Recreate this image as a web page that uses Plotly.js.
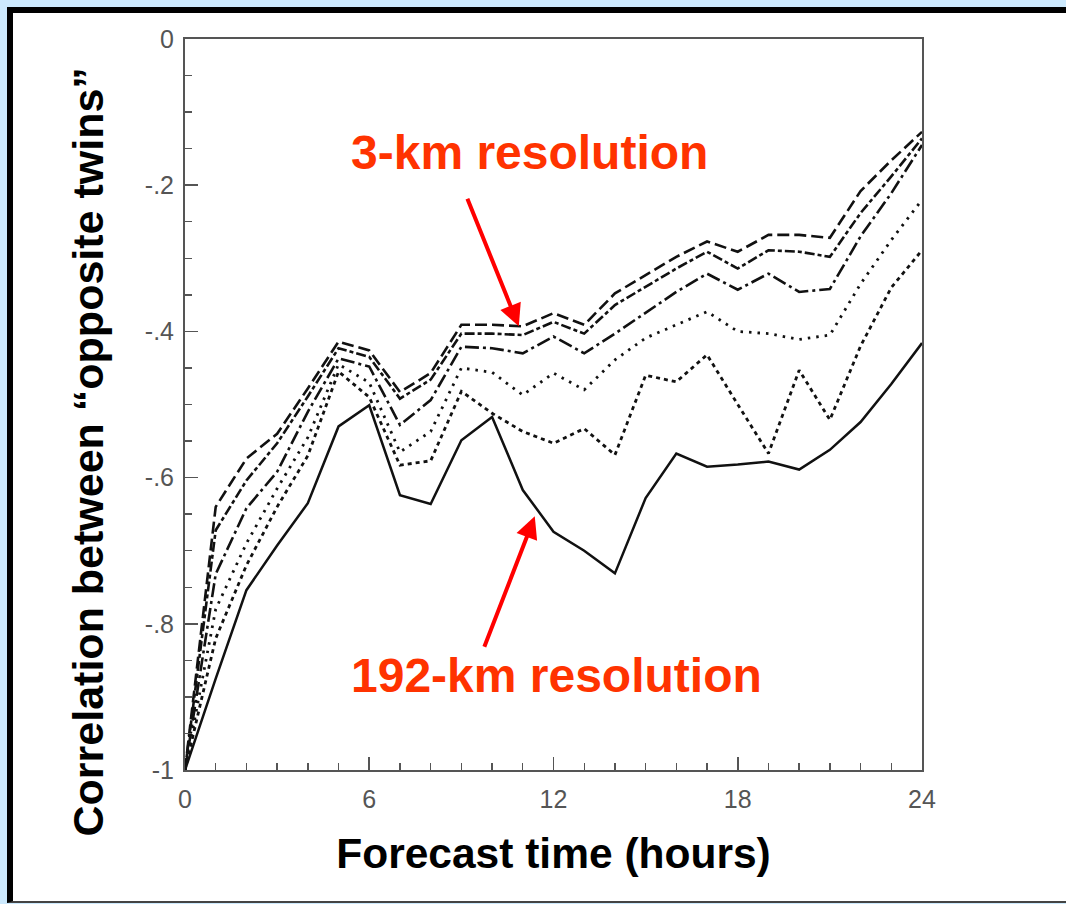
<!DOCTYPE html>
<html>
<head>
<meta charset="utf-8">
<script src="https://cdn.plot.ly/plotly-3.0.1.min.js"></script>
<style>
  html, body { margin: 0; padding: 0; width: 1066px; height: 904px; overflow: hidden; background: #cce9fd; }
  #panel { position: absolute; left: 7px; top: 7px; width: 1070px; height: 888px; background: #ffffff;
           border-left: 6px solid #000; border-top: 6px solid #000; border-bottom: 2px solid #444; }
  #chart { position: absolute; left: 0; top: 0; width: 1066px; height: 904px; }
</style>
</head>
<body>
<div id="panel"></div>
<div id="chart"></div>
<script>
// Forecast time (hours)
const hours = [0,1,2,3,4,5,6,7,8,9,10,11,12,13,14,15,16,17,18,19,20,21,22,23,24];

// Correlation between "opposite twins" for each model resolution (finest to coarsest)
const res3km  = [-1,-0.640,-0.574,-0.540,-0.478,-0.414,-0.426,-0.483,-0.457,-0.391,-0.391,-0.393,-0.375,-0.391,-0.348,-0.323,-0.298,-0.277,-0.291,-0.268,-0.268,-0.272,-0.208,-0.166,-0.127];
const resB    = [-1,-0.672,-0.604,-0.553,-0.489,-0.423,-0.435,-0.492,-0.466,-0.403,-0.403,-0.405,-0.387,-0.403,-0.364,-0.339,-0.314,-0.291,-0.314,-0.289,-0.291,-0.298,-0.238,-0.188,-0.136];
const resC    = [-1,-0.732,-0.642,-0.592,-0.510,-0.437,-0.448,-0.528,-0.494,-0.421,-0.423,-0.430,-0.407,-0.430,-0.403,-0.375,-0.346,-0.321,-0.343,-0.321,-0.346,-0.342,-0.270,-0.211,-0.145];
const resD    = [-1,-0.780,-0.690,-0.615,-0.545,-0.445,-0.470,-0.565,-0.537,-0.450,-0.456,-0.487,-0.457,-0.480,-0.439,-0.409,-0.391,-0.373,-0.400,-0.403,-0.411,-0.405,-0.335,-0.275,-0.220];
const resE    = [-1,-0.820,-0.720,-0.640,-0.570,-0.455,-0.490,-0.583,-0.577,-0.482,-0.512,-0.537,-0.553,-0.533,-0.569,-0.460,-0.469,-0.432,-0.500,-0.567,-0.453,-0.521,-0.420,-0.340,-0.289];
const res192km= [-1,-0.875,-0.754,-0.693,-0.635,-0.530,-0.501,-0.624,-0.636,-0.549,-0.517,-0.617,-0.674,-0.700,-0.731,-0.628,-0.567,-0.585,-0.582,-0.578,-0.589,-0.562,-0.524,-0.472,-0.416];

// Tick labels
const xTickVals = [0, 6, 12, 18, 24];
const xTickText = ['0', '6', '12', '18', '24'];
const yTickVals = [0, -0.2, -0.4, -0.6, -0.8, -1];
const yTickText = ['0', '-.2', '-.4', '-.6', '-.8', '-1'];

const FONT = 'Arial, Liberation Sans, sans-serif';
const lineColor = '#111111';
function tr(y, dash, w) {
  return { x: hours, y: y, mode: 'lines', type: 'scatter', showlegend: false, hoverinfo: 'skip',
           line: { color: lineColor, width: w, dash: dash } };
}

const data = [
  tr(res3km,  '12px,5px', 2.6),
  tr(resB,    '10px,3px,4px,3px', 2.6),
  tr(resC,    '14px,4px,3px,4px', 2.6),
  tr(resD,    '2.5px,6px', 2.8),
  tr(resE,    '4px,4px', 2.8),
  tr(res192km,'solid', 2.5)
];

const tickStyle = { ticks: 'inside', tickcolor: '#555', tickwidth: 1.6, ticklen: 13 };
const minorX = { dtick: 1, tick0: 0, ticks: 'inside', ticklen: 7, tickcolor: '#555', tickwidth: 1.4 };
const minorY = { dtick: 0.05, tick0: 0, ticks: 'inside', ticklen: 7, tickcolor: '#555', tickwidth: 1.4 };
const tickFont = { family: FONT, size: 25, color: '#555' };

const layout = {
  width: 1066, height: 904,
  margin: { l: 185, r: 144, t: 39, b: 134 },
  paper_bgcolor: 'rgba(0,0,0,0)', plot_bgcolor: '#ffffff',
  xaxis: Object.assign({}, tickStyle, {
    range: [0, 24], showgrid: false, zeroline: false, showline: true, linecolor: '#555', linewidth: 2, mirror: true,
    tickmode: 'array', tickvals: xTickVals, ticktext: xTickText, tickfont: tickFont,
    minor: minorX, ticklabelstandoff: 6,
    title: { text: 'Forecast time (hours)', standoff: 26,
             font: { family: FONT, size: 42.5, color: '#000', weight: 'bold' } }
  }),
  xaxis2: Object.assign({}, tickStyle, {
    range: [0, 24], overlaying: 'x', side: 'top', anchor: 'y', showgrid: false, zeroline: false,
    showline: false, showticklabels: false, tickmode: 'array', tickvals: xTickVals, minor: minorX
  }),
  yaxis: Object.assign({}, tickStyle, {
    range: [-1, 0], showgrid: false, zeroline: false, showline: true, linecolor: '#555', linewidth: 2, mirror: true,
    tickmode: 'array', tickvals: yTickVals, ticktext: yTickText, tickfont: tickFont,
    minor: minorY, ticklabelstandoff: 4
  }),
  yaxis2: Object.assign({}, tickStyle, {
    range: [-1, 0], overlaying: 'y', side: 'right', anchor: 'x', showgrid: false, zeroline: false,
    showline: false, showticklabels: false, tickmode: 'array', tickvals: yTickVals, minor: minorY
  }),
  annotations: [
    { x: -0.131, y: 0.435, xref: 'paper', yref: 'paper', text: 'Correlation between \u201copposite twins\u201d',
      textangle: -90, showarrow: false, xanchor: 'center', yanchor: 'middle',
      font: { family: FONT, size: 43, color: '#000', weight: 'bold' } },
    { x: 11.23, y: -0.155, xref: 'x', yref: 'y', text: '3-km resolution', showarrow: false,
      font: { family: FONT, size: 48, color: '#ff3300', weight: 'bold' } },
    { x: 12.11, y: -0.871, xref: 'x', yref: 'y', text: '192-km resolution', showarrow: false,
      font: { family: FONT, size: 48, color: '#ff3300', weight: 'bold' } },
    { x: 10.87, y: -0.393, xref: 'x', yref: 'y', text: '', showarrow: true, ax: -52, ay: -129,
      arrowhead: 2, arrowsize: 1.1, arrowwidth: 4, arrowcolor: '#ff0000' },
    { x: 11.39, y: -0.653, xref: 'x', yref: 'y', text: '', showarrow: true, ax: -51, ay: 132,
      arrowhead: 2, arrowsize: 1.1, arrowwidth: 4, arrowcolor: '#ff0000' }
  ]
};

Plotly.newPlot('chart', data, layout, { displayModeBar: false, staticPlot: true });
</script>
</body>
</html>
